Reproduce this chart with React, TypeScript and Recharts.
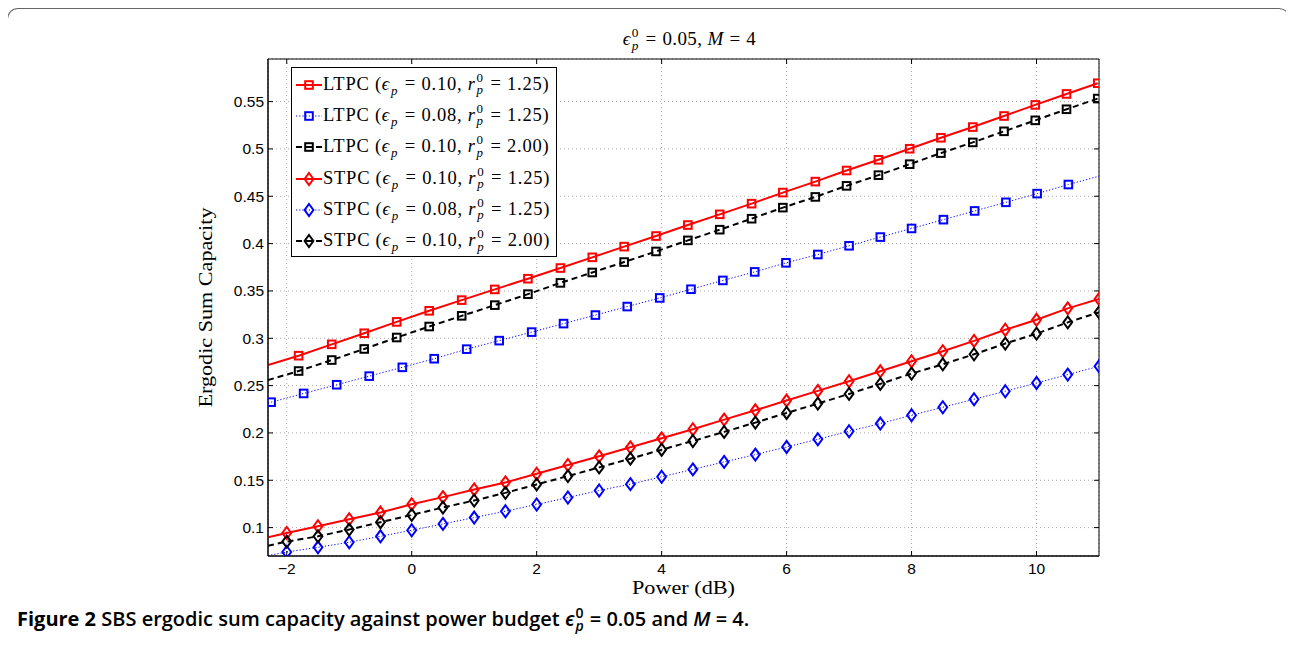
import React from "react";
import { LineChart, Line, XAxis, YAxis, CartesianGrid, ReferenceArea, Legend } from "recharts";

// plot box in page pixels (chart svg sits at page 0,0)
const W = 1294;
const H = 649;
const PL = 268;
const PR = 1099;
const PT = 59;
const PB = 556;

const xDomain = [-2.3, 11];
const yDomain = [0.07, 0.595];
const xTicks = [-2, 0, 2, 4, 6, 8, 10];
const yTicks = [0.1, 0.15, 0.2, 0.25, 0.3, 0.35, 0.4, 0.45, 0.5, 0.55];

// marker positions (dB)
const squareX = [-1.81, -1.28, -0.76, -0.24, 0.28, 0.8, 1.33, 1.86, 2.38, 2.89, 3.4, 3.91, 4.42, 4.93, 5.44, 5.94, 6.46, 6.96, 7.47, 7.97, 8.47, 8.98, 9.48, 9.98, 10.48, 10.98];
const blueSquareX = [-2.25, -1.73, -1.2, -0.68, -0.15, 0.36, 0.88, 1.4, 1.92, 2.43, 2.94, 3.45, 3.97, 4.47, 4.98, 5.49, 5.99, 6.5, 7.0, 7.5, 8.0, 8.51, 9.01, 9.51, 10.01, 10.51];
const diamondX = [-2, -1.5, -1, -0.5, 0, 0.5, 1, 1.5, 2, 2.5, 3, 3.5, 4, 4.5, 5, 5.5, 6, 6.5, 7, 7.5, 8, 8.5, 9, 9.5, 10, 10.5, 11];

const ltpcRed = [0.2816, 0.2936, 0.3053, 0.3173, 0.329, 0.3403, 0.3516, 0.3629, 0.3742, 0.3855, 0.3968, 0.408, 0.4196, 0.4309, 0.4422, 0.4539, 0.4655, 0.4772, 0.4885, 0.5002, 0.5118, 0.5231, 0.5348, 0.5465, 0.5581, 0.5694];
const ltpcBlue = [0.2325, 0.2417, 0.2509, 0.26, 0.2693, 0.2784, 0.2885, 0.2975, 0.3065, 0.3155, 0.3245, 0.3335, 0.3426, 0.3518, 0.3611, 0.3701, 0.3797, 0.3885, 0.3977, 0.4069, 0.416, 0.4253, 0.4345, 0.4436, 0.4528, 0.4624];
const ltpcBlack = [0.2654, 0.277, 0.2887, 0.3008, 0.3124, 0.3237, 0.335, 0.3466, 0.3585, 0.3695, 0.3805, 0.3917, 0.4034, 0.4147, 0.4263, 0.438, 0.4493, 0.461, 0.4723, 0.4839, 0.4956, 0.5069, 0.5186, 0.5302, 0.5419, 0.5532];
const stpcRed = [0.0943, 0.1014, 0.1088, 0.1159, 0.1247, 0.1322, 0.1403, 0.1477, 0.1569, 0.1661, 0.1753, 0.1848, 0.1943, 0.2039, 0.2141, 0.2239, 0.2342, 0.2444, 0.2546, 0.2651, 0.2757, 0.2863, 0.2972, 0.309, 0.3195, 0.3316, 0.3415];
const stpcBlue = [0.0742, 0.0792, 0.0845, 0.0908, 0.0972, 0.1039, 0.1106, 0.1173, 0.1244, 0.1318, 0.1392, 0.1459, 0.1537, 0.1615, 0.1694, 0.1771, 0.1852, 0.1933, 0.2018, 0.2099, 0.2187, 0.2271, 0.2356, 0.244, 0.2528, 0.2616, 0.2704];
const stpcBlack = [0.0852, 0.0908, 0.0979, 0.1057, 0.1134, 0.1212, 0.1286, 0.1367, 0.1456, 0.1544, 0.1636, 0.1728, 0.1823, 0.1915, 0.2011, 0.2109, 0.2211, 0.231, 0.2412, 0.2518, 0.2627, 0.2725, 0.2831, 0.2944, 0.3049, 0.3168, 0.3274];

// where each curve enters at the left edge, in series order
const lineStartY = [0.2717, 0.2315, 0.2558, 0.0898, 0.0705, 0.0809];
const ltpcBlueEndY = 0.4712;

const serif = '"Liberation Serif", "DejaVu Serif", serif';
const sans = '"Liberation Sans", Arial, sans-serif';

type Pt = { x: number; y: number; m?: boolean };

const build = (xs: number[], ys: number[], start: number, end?: number): Pt[] => {
  const pts: Pt[] = [{ x: xDomain[0], y: start }, ...xs.map((x, i) => ({ x, y: ys[i], m: true }))];
  if (end !== undefined) pts.push({ x: xDomain[1], y: end });
  return pts;
};

const RED = "#ff0000";
const BLUE = "#0000ff";
const BLACK = "#000000";

const series = [
  { id: "lr", kind: "LTPC", eps: "0.10", r: "1.25", color: RED, dash: undefined, width: 2, shape: "square", data: build(squareX, ltpcRed, lineStartY[0]) },
  { id: "lb", kind: "LTPC", eps: "0.08", r: "1.25", color: BLUE, dash: "1.2 2", width: 1, shape: "square", data: build(blueSquareX, ltpcBlue, lineStartY[1], ltpcBlueEndY) },
  { id: "lk", kind: "LTPC", eps: "0.10", r: "2.00", color: BLACK, dash: "6 4", width: 2, shape: "square", data: build(squareX, ltpcBlack, lineStartY[2]) },
  { id: "sr", kind: "STPC", eps: "0.10", r: "1.25", color: RED, dash: undefined, width: 2, shape: "diamond", data: build(diamondX, stpcRed, lineStartY[3]) },
  { id: "sb", kind: "STPC", eps: "0.08", r: "1.25", color: BLUE, dash: "1.2 2", width: 1, shape: "diamond", data: build(diamondX, stpcBlue, lineStartY[4]) },
  { id: "sk", kind: "STPC", eps: "0.10", r: "2.00", color: BLACK, dash: "6 4", width: 2, shape: "diamond", data: build(diamondX, stpcBlack, lineStartY[5]) },
];

const marker = (shape: string, color: string, cx: number, cy: number, key?: any) =>
  shape === "square" ? (
    <rect key={key} x={cx - 3.8} y={cy - 3.8} width={7.6} height={7.6} fill="none" stroke={color} strokeWidth={2} />
  ) : (
    <path key={key} d={`M${cx} ${cy - 6}L${cx + 4.4} ${cy}L${cx} ${cy + 6}L${cx - 4.4} ${cy}Z`} fill="none" stroke={color} strokeWidth={2} />
  );

const makeDot = (shape: string, color: string) => (props: any) => {
  const { cx, cy, payload, index } = props;
  if (!payload || !payload.m || cx == null || cy == null) return <g key={index} />;
  return marker(shape, color, cx, cy, index);
};

const XTick = (props: any) => {
  const { x, payload } = props;
  const v = payload.value;
  const label = v < 0 ? "\u2212" + Math.abs(v) : String(v);
  return (
    <g>
      <line x1={x} x2={x} y1={PB} y2={PB - 5} stroke="#000" />
      <line x1={x} x2={x} y1={PT} y2={PT + 5} stroke="#000" />
      <text x={x} y={568} textAnchor="middle" dominantBaseline="central" fontFamily={sans} fontSize={15.5} fill="#000">
        {label}
      </text>
    </g>
  );
};

const YTick = (props: any) => {
  const { y, payload } = props;
  return (
    <g>
      <line x1={PL} x2={PL + 5} y1={y} y2={y} stroke="#000" />
      <line x1={PR - 5} x2={PR} y1={y} y2={y} stroke="#000" />
      <text x={264} y={y} textAnchor="end" dominantBaseline="central" fontFamily={sans} fontSize={15.5} fill="#000">
        {String(payload.value)}
      </text>
    </g>
  );
};

// stacked super/subscript, as in TeX x_p^0
const SupSub = ({ sup, sub }: { sup?: string; sub: string }) => (
  <span style={{ display: "inline-flex", flexDirection: "column", verticalAlign: sup ? "0.42em" : "-0.28em", lineHeight: 1, marginLeft: 1, marginRight: 1 }}>
    {sup && <span style={{ fontSize: "0.7em", fontStyle: "normal" }}>{sup}</span>}
    <span style={{ fontSize: "0.7em", fontStyle: "italic", marginTop: sup ? "-0.05em" : 0 }}>{sub}</span>
  </span>
);

const Eq = ({ gap = "0.3em" }: { gap?: string }) => <span style={{ margin: `0 ${gap}` }}>=</span>;

const LegendBox = () => (
  <div style={{ width: 266, height: 190, boxSizing: "border-box", border: "1px solid #000", background: "#fff", paddingTop: 1 }}>
    {series.map((s) => (
      <div key={s.id} style={{ height: 31.3, display: "flex", alignItems: "center", fontFamily: serif, fontSize: 18.5, letterSpacing: 0.75, whiteSpace: "nowrap", color: "#000" }}>
        <svg width={28} height={16} style={{ marginLeft: 3, flex: "none" }}>
          <line x1={1} x2={27} y1={8} y2={8} stroke={s.color} strokeWidth={s.width} strokeDasharray={s.dash} />
          {marker(s.shape, s.color, 14, 8)}
        </svg>
        <span>
          {s.kind} (<i>ϵ</i>
          <SupSub sub="p" />
          <Eq />
          {s.eps}, <i>r</i>
          <SupSub sup="0" sub="p" />
          <Eq />
          {s.r})
        </span>
      </div>
    ))}
  </div>
);

export default function App() {
  return (
    <div style={{ position: "relative", width: W, height: H - 16 }}>
      <div
        style={{
          position: "absolute",
          left: -1,
          top: 0,
          width: 1283,
          height: H - 8,
          boxSizing: "border-box",
          border: "1.5px solid #666",
          borderBottom: "none",
          borderRadius: "11px 11px 0 0",
        }}
      />
      <div style={{ position: "absolute", left: -8, top: -8 }}>
        <LineChart width={W} height={H} margin={{ top: PT, right: W - PR, bottom: H - PB - 40, left: PL - 80 }}>
          <CartesianGrid stroke="#a8a8a8" strokeDasharray="1 3" />
          <XAxis
            type="number"
            dataKey="x"
            domain={xDomain}
            ticks={xTicks}
            interval={0}
            allowDataOverflow
            height={40}
            tickSize={0}
            tickLine={false}
            axisLine={{ stroke: "#000" }}
            tick={<XTick />}
            label={{
              content: () => (
                <text x={683.5} y={587} textAnchor="middle" dominantBaseline="central" fontFamily={serif} fontSize={19} textLength={103} lengthAdjust="spacingAndGlyphs" fill="#000">
                  Power (dB)
                </text>
              ),
            }}
          />
          <YAxis
            type="number"
            domain={yDomain}
            ticks={yTicks}
            interval={0}
            allowDataOverflow
            width={80}
            tickSize={0}
            tickLine={false}
            axisLine={{ stroke: "#000" }}
            tick={<YTick />}
            label={{
              content: () => (
                <text x={205} y={307.5} transform="rotate(-90 205 307.5)" textAnchor="middle" dominantBaseline="central" fontFamily={serif} fontSize={19} textLength={200} lengthAdjust="spacingAndGlyphs" fill="#000">
                  Ergodic Sum Capacity
                </text>
              ),
            }}
          />
          <ReferenceArea x1={xDomain[0]} x2={xDomain[1]} y1={yDomain[0]} y2={yDomain[1]} fill="none" stroke="#000" strokeWidth={1} ifOverflow="visible" />
          {series.map((s) => (
            <Line
              key={s.id}
              data={s.data}
              dataKey="y"
              type="linear"
              stroke={s.color}
              strokeWidth={s.width}
              strokeDasharray={s.dash}
              dot={makeDot(s.shape, s.color)}
              activeDot={false}
              legendType="none"
              isAnimationActive={false}
            />
          ))}
          <Legend
            layout="vertical"
            align="center"
            verticalAlign="middle"
            content={() => <LegendBox />}
            wrapperStyle={{ position: "absolute", left: 291, top: 67, width: "auto", height: "auto" }}
          />
        </LineChart>
      </div>
      <div style={{ position: "absolute", left: PL - 8, top: 18, width: PR - PL, paddingLeft: 12, boxSizing: "border-box", textAlign: "center", fontFamily: serif, fontSize: 19, letterSpacing: 0.4, color: "#000" }}>
        <i>ϵ</i>
        <SupSub sup="0" sub="p" />
        <Eq gap="0.3em" />
        0.05, <i>M</i>
        <Eq gap="0.3em" />4
      </div>
      <div style={{ position: "absolute", left: 9, top: 598, lineHeight: "22px", fontFamily: '"Open Sans", "Noto Sans", sans-serif', fontSize: 20, fontWeight: 600, color: "#000", whiteSpace: "nowrap" }}>
        <span style={{ fontWeight: 700 }}>Figure 2</span> SBS ergodic sum capacity against power budget{" "}
        <i>ϵ</i>
        <SupSub sup="0" sub="p" />
        {" = 0.05 and "}
        <i>M</i> = 4.
      </div>
    </div>
  );
}
